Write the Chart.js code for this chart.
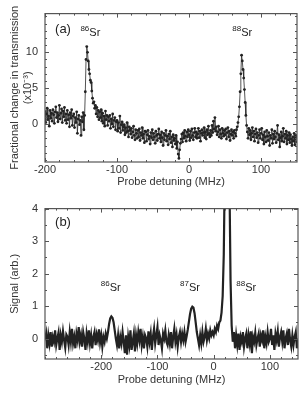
<!DOCTYPE html>
<html>
<head>
<meta charset="utf-8">
<script src="https://cdn.jsdelivr.net/npm/chart.js@4.4.0/dist/chart.umd.min.js"></script>
<style>
  html, body { margin: 0; padding: 0; background: #fff; }
  #wrap { position: relative; width: 307px; height: 393px; }
  canvas { position: absolute; left: 0; }
</style>
</head>
<body>
<div id="wrap">
  <canvas id="chartA" width="307" height="195" style="top:0"></canvas>
  <canvas id="chartB" width="307" height="198" style="top:195px"></canvas>
</div>
<script>
// panel (a): fractional change in transmission (x10^-3), one sample per MHz from -200
const startA = -200, stepA = 1;
const signalA = [
  1.8, 0.2, 1.4, 2.2, 0.6, 1.1, -0.3, 1.9, 0.8, 1.5,
  0.4, 2.0, 1.3, 0.1, 1.7, 2.4, 0.9, 1.6, 0.3, 1.2,
  2.6, 0.7, 1.5, 2.1, 0.2, 1.8, 1.0, 2.3, 0.5, 1.4,
  0.1, 1.9, 0.6, 1.3, -0.4, 1.6, 0.8, 2.0, -0.2, 1.1,
  1.4, -0.5, 0.9, 0.2, 1.7, -1.3, 0.7, 1.2, -0.1, 0.5,
  -1.6, 1.0, 0.3, 1.6, -0.8,
  1.2, 4.5, 9.0, 10.8, 10.0, 8.8, 7.6, 7.0, 6.1, 5.8,
  4.6, 3.6, 2.9, 3.1, 2.2, 2.6, 1.4, 2.3, 1.0, 1.9,
  0.6, 1.7, 0.9, 2.0, 0.4,
  1.5, 0.1, 1.1, -0.3, 1.8, 0.6, 1.2, -0.2, 1.0, 0.4,
  1.2, -0.6, 0.7, 0.0, 1.4, -0.4, 0.5, 0.9, -0.8, 0.3,
  0.5, -1.0, 0.2, -0.6, 1.1, -1.2, -0.1, 0.3, -0.9, -0.4,
  -0.1, -1.5, -0.5, -1.2, 0.2, -1.0, -1.8, -0.4, -0.9, -1.4,
  -0.6, -1.9, -1.1, -0.3, -1.6, -2.2, -0.8, -1.3, -2.0, -0.9,
  -1.8, -0.7, -2.3, -1.2, -1.6, -0.5, -2.0, -1.4, -2.6, -1.0,
  -1.1, -2.4, -1.5, -0.9, -2.1, -1.7, -2.8, -1.2, -1.9, -0.8,
  -2.2, -1.3, -1.8, -2.7, -1.0, -1.6, -2.3, -1.4, -0.7, -2.0,
  -1.5, -2.5, -1.1, -1.9, -3.0, -1.3, -2.2, -1.6, -0.9, -2.4,
  -1.7, -2.9, -1.4, -2.1, -1.0, -2.6, -1.8, -3.2, -1.5, -2.3,
  -2.0, -2.8, -1.6, -3.4, -2.5, -4.2, -4.8, -3.6, -2.7, -2.1,
  -1.4, -2.5, -1.2, -2.0, -0.9, -1.7, -2.4, -1.1, -1.8, -0.8,
  -1.5, -2.3, -1.0, -1.9, -0.7, -1.6, -2.2, -1.2, -0.6, -1.8,
  -1.1, -2.0, -1.4, -0.6, -1.9, -1.0, -2.4, -1.3, -0.8, -1.6,
  -1.2, -0.5, -1.9, -1.1, -2.1, -0.8, -1.5, -0.3, -1.3, -1.8,
  -0.9, -1.6, -0.2, -1.2, 0.4, -0.7, 0.9, -1.0, -0.4, -1.5,
  -1.1, -0.3, -1.8, -0.8, -1.4, -2.0, -0.6, -1.3, -1.7, -0.9,
  -1.5, -0.7, -2.1, -1.2, -0.5, -1.8, -1.0, -2.3, -1.4, -0.8,
  -1.6, -1.1, -2.0, -0.9, -1.3, -1.7, -0.8, -0.4,
  0.2, 1.0, 2.4, 4.5, 7.0, 9.6, 8.8, 7.6, 6.4, 4.8, 3.0, 1.2,
  -0.2, -1.1, -2.0, -0.6, -1.5, -0.9, -2.2, -1.3, -0.5, -1.8,
  -1.0, -2.4, -1.4, -0.7, -1.9, -1.2, -2.6, -1.6, -0.8, -2.0,
  -1.3, -0.6, -2.2, -1.5, -2.8, -1.1, -1.8, -2.5, -0.9, -1.7,
  -2.3, -1.2, -3.0, -1.6, -2.0, -0.8, -2.7, -1.4, -2.1, -1.0,
  -1.8, -2.6, -1.3, -0.2, -2.2, -1.5, -3.2, -1.9, -1.1, -2.4,
  -1.7, -0.6, -2.5, -1.4, -2.0, -1.0, -2.8, -1.6, -2.2, -1.2,
  -2.6, -1.5, -2.1, -3.0, -1.8, -2.4, -1.3, -2.9, -2.0, -1.6, -2.5
];
const xTicksA = [-200, -100, 0, 100];
const yTicksA = [0, 5, 10];

// panel (b): signal (arb.), one sample per 2 MHz from -300
const startB = -300, stepB = 2;
const signalB = [
  -0.05, 0.15, -0.3, 0.1, -0.15, 0.2, -0.25, 0.05, -0.1, 0.25,
  -0.2, 0.0, 0.18, -0.35, 0.1, -0.1, 0.22, -0.05, -0.28, 0.12,
  0.05, -0.2, 0.2, -0.1, 0.3, -0.15, 0.05, -0.3, 0.15, -0.05,
  0.35, -0.1, 0.1, -0.25, 0.2, 0.0, -0.35, 0.15, -0.1, 0.25,
  -0.15, 0.1, -0.3, 0.05, 0.2, -0.2, 0.12, -0.05, 0.28, -0.12,
  0.1, -0.25, 0.05, -0.1, 0.15, 0.0, 0.2, 0.45, 0.62, 0.68,
  0.64, 0.5, 0.25, 0.0, -0.2, 0.1, -0.3, 0.05, -0.15, 0.2,
  -0.1, -0.45, 0.1, -0.5, 0.05, -0.2, 0.25, -0.35, -0.1, 0.15,
  -0.4, 0.1, -0.15, 0.2, -0.05, 0.3, -0.2, 0.05, -0.3, 0.1,
  0.0, -0.25, 0.22, -0.1, 0.15, -0.35, 0.05, 0.3, -0.15, 0.1,
  0.35, -0.2, 0.1, -0.05, -0.3, 0.15, 0.0, 0.25, -0.1, -0.2,
  0.1, -0.15, 0.2, -0.3, 0.05, 0.3, -0.1, 0.12, -0.25, 0.05,
  0.2, -0.1, 0.15, -0.05, 0.2, -0.1, 0.08, 0.28, 0.52, 0.76,
  0.92, 0.98, 0.95, 0.78, 0.5, 0.2, 0.0, -0.2, 0.1, -0.15,
  0.2, -0.1, 0.05, 0.3, -0.05, 0.15, 0.0, 0.25, 0.1, 0.2,
  0.1, 0.3, 0.2, 0.4, 0.3, 0.5, 0.55, 0.8, 1.3, 2.6,
  5.5, 9.5, 11, 9.0, 5.0, 1.8, 0.4, -0.1, 0.2, -0.3,
  0.1, -0.2, 0.15, -0.35, 0.05, -0.1, 0.2, -0.25, 0.0, 0.15,
  -0.3, 0.1, -0.15, 0.22, -0.45, 0.05, -0.1, 0.18, -0.2, 0.0,
  0.15, -0.25, 0.1, -0.05, 0.25, -0.3, 0.05, -0.15, 0.2, -0.1,
  0.0, 0.3, -0.2, 0.1, -0.35, 0.15, -0.05, 0.22, -0.25, 0.05,
  0.2, -0.1, 0.25, -0.3, 0.0, 0.15, -0.2, 0.3, -0.05, -0.25,
  0.1, -0.2, 0.05, 0.2, -0.3, 0.0
];
const xTicksB = [-200, -100, 0, 100];
const yTicksB = [0, 1, 2, 3, 4];

Chart.defaults.font.family = '"Liberation Sans", Arial, sans-serif';
Chart.defaults.color = '#333';

const ink = '#222';

// box frame with inward tick marks, plus the peak labels
const framePlugin = {
  id: 'frame',
  afterDatasetsDraw(chart, args, opts) {
    const { ctx, chartArea: a, scales: { x, y } } = chart;
    ctx.save();
    ctx.strokeStyle = '#555';
    ctx.lineWidth = 1.2;
    ctx.strokeRect(a.left, a.top, a.right - a.left, a.bottom - a.top);
    ctx.lineWidth = 1;
    ctx.beginPath();
    const xMark = (v, len) => {
      const px = Math.round(x.getPixelForValue(v)) + 0.5;
      ctx.moveTo(px, a.bottom); ctx.lineTo(px, a.bottom - len);
      ctx.moveTo(px, a.top); ctx.lineTo(px, a.top + len);
    };
    const yMark = (v, len) => {
      const py = Math.round(y.getPixelForValue(v)) + 0.5;
      ctx.moveTo(a.left, py); ctx.lineTo(a.left + len, py);
      ctx.moveTo(a.right, py); ctx.lineTo(a.right - len, py);
    };
    for (let v = x.min; v <= x.max; v += opts.xMinor) xMark(v, 2);
    for (let v = Math.ceil(y.min / opts.yMinor) * opts.yMinor; v <= y.max; v += opts.yMinor) yMark(v, 2);
    opts.xTicks.forEach(v => xMark(v, 4));
    opts.yTicks.forEach(v => yMark(v, 4));
    ctx.stroke();

    ctx.fillStyle = ink;
    ctx.textBaseline = 'alphabetic';
    opts.labels.forEach(l => {
      const px = x.getPixelForValue(l.x);
      const py = y.getPixelForValue(l.y);
      ctx.font = `${l.size}px "Liberation Sans", Arial, sans-serif`;
      const w2 = ctx.measureText(l.text).width;
      ctx.font = `8px "Liberation Sans", Arial, sans-serif`;
      const w1 = l.sup ? ctx.measureText(l.sup).width : 0;
      const left = px - (w1 + w2) / 2;
      if (l.sup) ctx.fillText(l.sup, left, py);
      ctx.font = `${l.size}px "Liberation Sans", Arial, sans-serif`;
      ctx.fillText(l.text, left + w1, py + 5);
    });
    ctx.restore();
  }
};

function axisX(min, max, ticks, height) {
  return {
    type: 'linear', min, max,
    afterBuildTicks: s => { s.ticks = ticks.map(v => ({ value: v })); },
    afterFit: s => { s.height = height; },
    ticks: { font: { size: 11 }, padding: 1, maxRotation: 0 },
    grid: { display: false, drawTicks: false },
    border: { display: false },
    title: { display: true, text: 'Probe detuning (MHz)', font: { size: 11 }, padding: { top: 0, bottom: 6 } }
  };
}

function axisY(min, max, ticks, title) {
  return {
    type: 'linear', min, max,
    afterBuildTicks: s => { s.ticks = ticks.map(v => ({ value: v })); },
    afterFit: s => { s.width = 37; },
    ticks: { font: { size: 11 }, padding: 7 },
    grid: { display: false, drawTicks: false },
    border: { display: false },
    title: { display: true, text: title, font: { size: 11 }, padding: { top: 0, bottom: 0 } }
  };
}

new Chart(document.getElementById('chartA'), {
  type: 'scatter',
  data: {
    datasets: [{
      data: signalA.map((v, i) => ({ x: startA + i * stepA, y: v })),
      pointRadius: 1.4,
      pointBackgroundColor: ink,
      pointBorderWidth: 0,
      showLine: true,
      borderColor: 'rgba(40,40,40,0.8)',
      borderWidth: 1,
      tension: 0
    }]
  },
  options: {
    responsive: false,
    animation: false,
    layout: { padding: { left: 8, right: 10, top: 5, bottom: 0 } },
    scales: {
      x: axisX(-200, 150, xTicksA, 33),
      y: axisY(-5.3, 15.4, yTicksA, ['Fractional change in transmission', '(x10\u207B\u00B3)'])
    },
    plugins: {
      legend: { display: false },
      tooltip: { enabled: false },
      frame: {
        xMinor: 20, yMinor: 1, xTicks: xTicksA, yTicks: yTicksA,
        labels: [
          { x: -175, y: 13.4, sup: '', text: '(a)', size: 13 },
          { x: -137, y: 13.0, sup: '86', text: 'Sr', size: 11 },
          { x: 74, y: 13.0, sup: '88', text: 'Sr', size: 11 }
        ]
      }
    }
  },
  plugins: [framePlugin]
});

new Chart(document.getElementById('chartB'), {
  type: 'scatter',
  data: {
    datasets: [{
      data: signalB.map((v, i) => ({ x: startB + i * stepB, y: v })),
      showLine: true,
      borderColor: ink,
      borderWidth: 2.2,
      pointRadius: 0,
      tension: 0,
      clip: 0
    }]
  },
  options: {
    responsive: false,
    animation: false,
    layout: { padding: { left: 8, right: 9, top: 9, bottom: 0 } },
    scales: {
      x: axisX(-300, 150, xTicksB, 34),
      y: axisY(-0.63, 4, yTicksB, 'Signal (arb.)')
    },
    plugins: {
      legend: { display: false },
      tooltip: { enabled: false },
      frame: {
        xMinor: 20, yMinor: 0.5, xTicks: xTicksB, yTicks: yTicksB,
        labels: [
          { x: -268, y: 3.62, sup: '', text: '(b)', size: 13 },
          { x: -183, y: 1.62, sup: '86', text: 'Sr', size: 11 },
          { x: -42, y: 1.62, sup: '87', text: 'Sr', size: 11 },
          { x: 58, y: 1.62, sup: '88', text: 'Sr', size: 11 }
        ]
      }
    }
  },
  plugins: [framePlugin]
});
</script>
</body>
</html>
